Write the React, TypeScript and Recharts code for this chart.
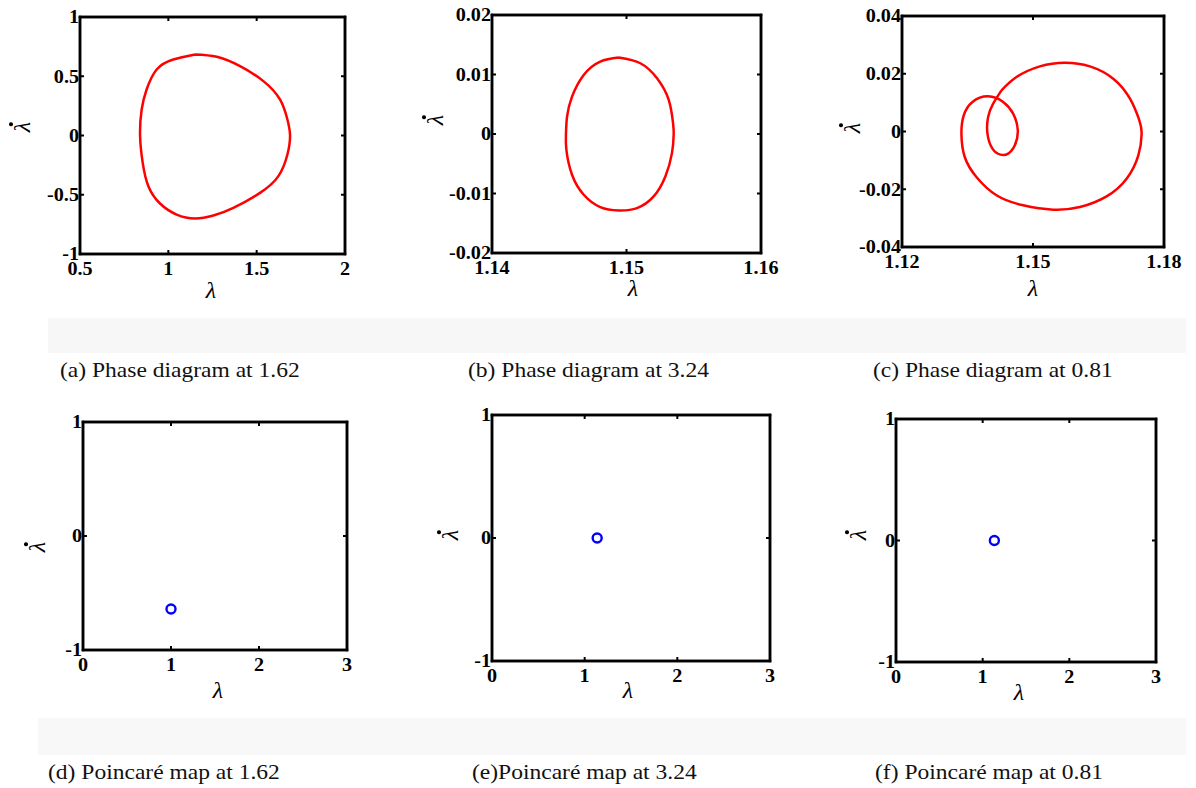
import React from "react";
import { ComposedChart, Line, Scatter, XAxis, YAxis, ReferenceArea } from "recharts";

const SERIF = '"Liberation Serif", "Times New Roman", serif';

// (a) phase diagram at 1.62
const curveA = [
    { x: 1.151, y: 0.684 },
    { x: 1.274, y: 0.664 },
    { x: 1.406, y: 0.585 },
    { x: 1.538, y: 0.459 },
    { x: 1.632, y: 0.304 },
    { x: 1.674, y: 0.135 },
    { x: 1.689, y: 0 },
    { x: 1.674, y: -0.16 },
    { x: 1.623, y: -0.343 },
    { x: 1.519, y: -0.484 },
    { x: 1.368, y: -0.61 },
    { x: 1.255, y: -0.675 },
    { x: 1.151, y: -0.7 },
    { x: 1.047, y: -0.667 },
    { x: 0.953, y: -0.574 },
    { x: 0.887, y: -0.428 },
    { x: 0.855, y: -0.231 },
    { x: 0.84, y: 0 },
    { x: 0.849, y: 0.219 },
    { x: 0.877, y: 0.388 },
    { x: 0.934, y: 0.557 },
    { x: 1.028, y: 0.641 },
    { x: 1.151, y: 0.684 },
];

// (b) phase diagram at 3.24
const curveB = [
    { x: 1.14942, y: 0.01284 },
    { x: 1.15103, y: 0.01189 },
    { x: 1.15227, y: 0.00937 },
    { x: 1.15314, y: 0.00573 },
    { x: 1.15346, y: 0.00182 },
    { x: 1.15351, y: 0 },
    { x: 1.15338, y: -0.00322 },
    { x: 1.15289, y: -0.00713 },
    { x: 1.15202, y: -0.01049 },
    { x: 1.15078, y: -0.01245 },
    { x: 1.14942, y: -0.01284 },
    { x: 1.14805, y: -0.01228 },
    { x: 1.14682, y: -0.01021 },
    { x: 1.14595, y: -0.00685 },
    { x: 1.14553, y: -0.00266 },
    { x: 1.1455, y: 0 },
    { x: 1.14558, y: 0.00294 },
    { x: 1.14595, y: 0.00629 },
    { x: 1.14682, y: 0.00993 },
    { x: 1.14805, y: 0.01217 },
    { x: 1.14942, y: 0.01284 },
];

// (c) phase diagram at 0.81 (big loop with a small inner loop)
const curveC = [
    { x: 1.14278, y: 0.01426 },
    { x: 1.14622, y: 0.01888 },
    { x: 1.15157, y: 0.02257 },
    { x: 1.1573, y: 0.02384 },
    { x: 1.16303, y: 0.02257 },
    { x: 1.16838, y: 0.0183 },
    { x: 1.17221, y: 0.01137 },
    { x: 1.17435, y: 0.00387 },
    { x: 1.17488, y: -0.00075 },
    { x: 1.17412, y: -0.00825 },
    { x: 1.17144, y: -0.01633 },
    { x: 1.16685, y: -0.02245 },
    { x: 1.16074, y: -0.02615 },
    { x: 1.15463, y: -0.02707 },
    { x: 1.14775, y: -0.02557 },
    { x: 1.14163, y: -0.02208 },
    { x: 1.13704, y: -0.01576 },
    { x: 1.13437, y: -0.00883 },
    { x: 1.13361, y: -0.00075 },
    { x: 1.13414, y: 0.0056 },
    { x: 1.13613, y: 0.01022 },
    { x: 1.13972, y: 0.01218 },
    { x: 1.14316, y: 0.01022 },
    { x: 1.14545, y: 0.00618 },
    { x: 1.14652, y: 0.0004 },
    { x: 1.14584, y: -0.00479 },
    { x: 1.14431, y: -0.00768 },
    { x: 1.14255, y: -0.00802 },
    { x: 1.14071, y: -0.00595 },
    { x: 1.13957, y: -0.00075 },
    { x: 1.13972, y: 0.00502 },
    { x: 1.14087, y: 0.00964 },
    { x: 1.14278, y: 0.01426 },
];

// Poincaré sections
const poincareD = [{ x: 1.0, y: -0.64 }];
const poincareE = [{ x: 1.135, y: 0 }];
const poincareF = [{ x: 1.135, y: 0 }];

const ticksAx = [0.5, 1, 1.5, 2];
const ticksAy = [-1, -0.5, 0, 0.5, 1];
const ticksBx = [1.14, 1.15, 1.16];
const ticksBy = [-0.02, -0.01, 0, 0.01, 0.02];
const ticksCx = [1.12, 1.15, 1.18];
const ticksCy = [-0.04, -0.02, 0, 0.02, 0.04];
const ticksPx = [0, 1, 2, 3];
const ticksPy = [-1, 0, 1];

const captions = [
    "(a) Phase diagram at 1.62",
    "(b) Phase diagram at 3.24",
    "(c) Phase diagram at 0.81",
    "(d) Poincaré map at 1.62",
    "(e)Poincaré map at 3.24",
    "(f) Poincaré map at 0.81",
];

// the source picture is stretched sideways a little; text follows it
const STRETCH = 1.12;

const tickStyle: React.CSSProperties = {
    fontFamily: SERIF,
    fontSize: 18,
    fontWeight: 700,
    fill: "#000",
};

function BottomTick(props: any) {
    const { x, y, payload } = props;
    return (
        <g>
            <line x1={x} y1={y} x2={x} y2={y - 4} stroke="#000" strokeWidth={2} />
            <text
                transform={`translate(${x},${y + 21}) scale(${STRETCH},1)`}
                textAnchor="middle"
                style={tickStyle}
            >
                {String(payload.value)}
            </text>
        </g>
    );
}

function TopTick(props: any) {
    const { x, y } = props;
    return <line x1={x} y1={y} x2={x} y2={y + 4} stroke="#000" strokeWidth={2} />;
}

function LeftTick(props: any) {
    const { x, y, payload } = props;
    return (
        <g>
            <line x1={x} y1={y} x2={x + 4} y2={y} stroke="#000" strokeWidth={2} />
            <text
                transform={`translate(${x - 1},${y}) scale(${STRETCH},1)`}
                dy="0.36em"
                textAnchor="end"
                style={tickStyle}
            >
                {String(payload.value)}
            </text>
        </g>
    );
}

function RightTick(props: any) {
    const { x, y } = props;
    return <line x1={x} y1={y} x2={x - 4} y2={y} stroke="#000" strokeWidth={2} />;
}

function Ring(props: any) {
    const { cx, cy } = props;
    return <circle cx={cx} cy={cy} r={4.5} fill="none" stroke="#0000ff" strokeWidth={2.4} />;
}

type Box = { left: number; top: number; w: number; h: number };

type PanelProps = {
    box: Box;
    xTicks: number[];
    yTicks: number[];
    curve?: { x: number; y: number }[];
    point?: { x: number; y: number }[];
    xTitle: [number, number];
    yTitle: [number, number];
};

const axisLine = { stroke: "#000", strokeWidth: 2.5, strokeLinecap: "square" as const };

function Panel({ box, xTicks, yTicks, curve, point, xTitle, yTitle }: PanelProps) {
    const xDomain = [xTicks[0], xTicks[xTicks.length - 1]];
    const yDomain = [yTicks[0], yTicks[yTicks.length - 1]];
    return (
        <>
            <div style={{ position: "absolute", left: box.left - 60, top: box.top - 10 }}>
                <ComposedChart
                    width={box.w + 80}
                    height={box.h + 40}
                    margin={{ top: 9, right: 19, bottom: 0, left: 0 }}
                    style={{ overflow: "visible" }}
                >
                    <XAxis
                        xAxisId="b"
                        type="number"
                        dataKey="x"
                        domain={xDomain}
                        ticks={xTicks}
                        allowDataOverflow
                        interval={0}
                        height={30}
                        tickSize={0}
                        tickMargin={0}
                        tickLine={false}
                        tick={<BottomTick />}
                        axisLine={axisLine}
                    />
                    <XAxis
                        xAxisId="t"
                        orientation="top"
                        type="number"
                        dataKey="x"
                        domain={xDomain}
                        ticks={xTicks}
                        allowDataOverflow
                        interval={0}
                        height={1}
                        tickSize={0}
                        tickMargin={0}
                        tickLine={false}
                        tick={<TopTick />}
                        axisLine={axisLine}
                    />
                    <YAxis
                        yAxisId="l"
                        type="number"
                        dataKey="y"
                        domain={yDomain}
                        ticks={yTicks}
                        allowDataOverflow
                        interval={0}
                        width={60}
                        tickSize={0}
                        tickMargin={0}
                        tickLine={false}
                        tick={<LeftTick />}
                        axisLine={axisLine}
                    />
                    <YAxis
                        yAxisId="r"
                        orientation="right"
                        type="number"
                        dataKey="y"
                        domain={yDomain}
                        ticks={yTicks}
                        allowDataOverflow
                        interval={0}
                        width={1}
                        tickSize={0}
                        tickMargin={0}
                        tickLine={false}
                        tick={<RightTick />}
                        axisLine={axisLine}
                    />
                    <ReferenceArea
                        xAxisId="b"
                        yAxisId="l"
                        x1={xDomain[0]}
                        x2={xDomain[1]}
                        y1={yDomain[0]}
                        y2={yDomain[1]}
                        fill="none"
                        stroke="#000"
                        strokeWidth={2.5}
                        ifOverflow="visible"
                    />
                    {curve && (
                        <Line
                            xAxisId="b"
                            yAxisId="l"
                            data={curve}
                            dataKey="y"
                            type="natural"
                            stroke="#ff0000"
                            strokeWidth={2.5}
                            dot={false}
                            activeDot={false}
                            isAnimationActive={false}
                        />
                    )}
                    {point && (
                        <Scatter
                            xAxisId="b"
                            yAxisId="l"
                            data={point}
                            dataKey="y"
                            shape={<Ring />}
                            isAnimationActive={false}
                        />
                    )}
                </ComposedChart>
            </div>
            <div
                style={{
                    position: "absolute",
                    left: xTitle[0],
                    top: xTitle[1],
                    transform: "translate(-50%, -50%)",
                    fontFamily: SERIF,
                    fontStyle: "italic",
                    fontSize: 24,
                    lineHeight: "18px",
                }}
            >
                λ
            </div>
            <div
                style={{
                    position: "absolute",
                    left: yTitle[0],
                    top: yTitle[1],
                    transform: "translate(-50%, -50%) rotate(-90deg)",
                    fontFamily: SERIF,
                    fontStyle: "italic",
                    fontSize: 24,
                    lineHeight: "24px",
                }}
            >
                <span style={{ position: "relative", display: "inline-block" }}>
                    λ
                    <span
                        style={{
                            position: "absolute",
                            left: 6,
                            top: -1,
                            width: 3.5,
                            height: 3.5,
                            borderRadius: "50%",
                            background: "#000",
                        }}
                    />
                </span>
            </div>
        </>
    );
}

function Caption({ text, left, top }: { text: string; left: number; top: number }) {
    return (
        <div
            style={{
                position: "absolute",
                left,
                top,
                fontFamily: SERIF,
                fontSize: 21,
                lineHeight: "23px",
                color: "#111",
                whiteSpace: "nowrap",
                transform: `scaleX(${STRETCH})`,
                transformOrigin: "left center",
            }}
        >
            {text}
        </div>
    );
}

export default function App() {
    return (
        <div
            style={{
                position: "absolute",
                left: 0,
                top: 0,
                width: 1196,
                height: 788,
                background: "#fff",
                overflow: "hidden",
            }}
        >
            <div style={{ position: "absolute", left: 48, top: 318, width: 1138, height: 35, background: "#f7f7f7" }} />
            <div style={{ position: "absolute", left: 38, top: 718, width: 1148, height: 37, background: "#f8f8f8" }} />

            <Panel box={{ left: 80, top: 17, w: 265, h: 237 }} xTicks={ticksAx} yTicks={ticksAy} curve={curveA} xTitle={[211, 290]} yTitle={[22, 127]} />
            <Panel box={{ left: 492, top: 15, w: 269, h: 238 }} xTicks={ticksBx} yTicks={ticksBy} curve={curveB} xTitle={[633, 288]} yTitle={[435, 120]} />
            <Panel box={{ left: 902, top: 16, w: 262, h: 231 }} xTicks={ticksCx} yTicks={ticksCy} curve={curveC} xTitle={[1033, 288]} yTitle={[852, 128]} />
            <Panel box={{ left: 83, top: 422, w: 264, h: 228 }} xTicks={ticksPx} yTicks={ticksPy} point={poincareD} xTitle={[218, 690]} yTitle={[37, 547]} />
            <Panel box={{ left: 492, top: 415, w: 278, h: 246 }} xTicks={ticksPx} yTicks={ticksPy} point={poincareE} xTitle={[628, 690]} yTitle={[450, 535]} />
            <Panel box={{ left: 896, top: 419, w: 260, h: 243 }} xTicks={ticksPx} yTicks={ticksPy} point={poincareF} xTitle={[1019, 692]} yTitle={[858, 535]} />

            <Caption text={captions[0]} left={60} top={359} />
            <Caption text={captions[1]} left={468} top={359} />
            <Caption text={captions[2]} left={873} top={359} />
            <Caption text={captions[3]} left={48} top={761} />
            <Caption text={captions[4]} left={472} top={761} />
            <Caption text={captions[5]} left={875} top={761} />
        </div>
    );
}
